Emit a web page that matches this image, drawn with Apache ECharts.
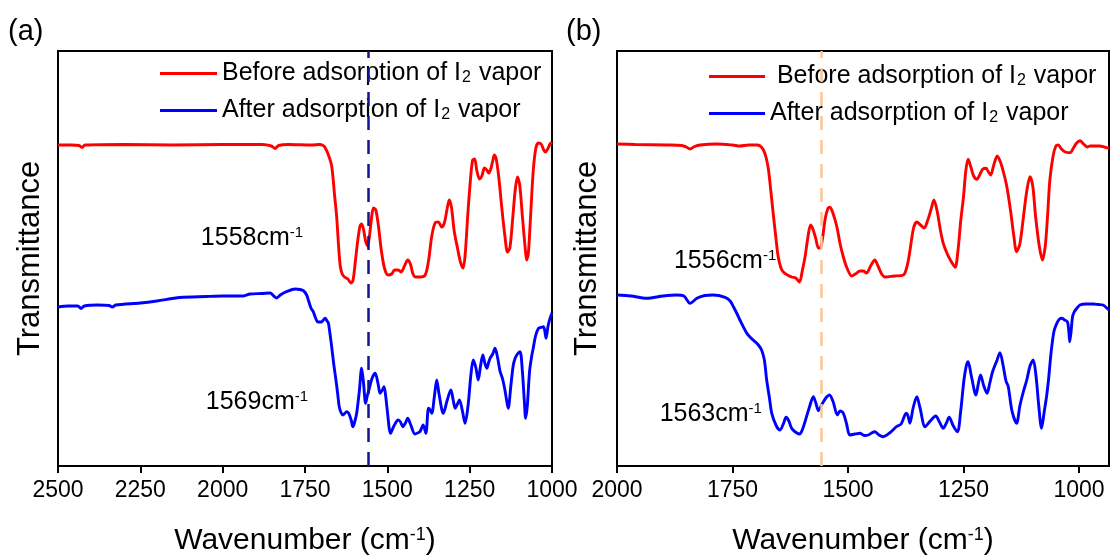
<!DOCTYPE html>
<html><head><meta charset="utf-8">
<script src="https://cdn.jsdelivr.net/npm/echarts@6/dist/echarts.min.js"></script>
<style>html,body{margin:0;padding:0;background:#fff}#c{width:1111px;height:558px}</style>
</head><body><div id="c"></div><script>
// ---- data: [wavenumber (cm-1), transmittance (a.u.)] ----
const seriesNames = ['Before adsorption of I2 vapor', 'After adsorption of I2 vapor'];
const xTicksA = [2500, 2250, 2000, 1750, 1500, 1250, 1000];
const xTicksB = [2000, 1750, 1500, 1250, 1000];
const peakA = 1558, peakB = 1557;
const annA = [['1558', 1911, 228], ['1569', 1896, 64]];
const annB = [['1556', 1766, 205], ['1563', 1797, 52]];

const beforeA = [[2500,321],[2460,321],[2436,320.5],[2427,318.5],[2418,321],[2300,321.5],[2150,321],[2000,321.5],[1880,321.5],[1852,320],[1841,317.5],[1830,320.5],[1800,321.5],[1730,321],[1705,321.5],[1695,320.5],[1690,319],[1680,312],[1669,300],[1660,270],[1654,250],[1648,220],[1643,200],[1637,192],[1630,189],[1620,187],[1610,183],[1604,186],[1597,205],[1590,225],[1583,240],[1578,242],[1572,236],[1566,225],[1560,220],[1555,228],[1548,248],[1542,258],[1535,256],[1527,240],[1518,215],[1508,197],[1497,191],[1487,192],[1478,196],[1467,196],[1458,194],[1448,200],[1438,206],[1430,202],[1422,192],[1414,189],[1400,189],[1385,191],[1375,205],[1365,230],[1355,243],[1345,244],[1335,239],[1327,243],[1318,258],[1312,266],[1305,258],[1297,235],[1287,218],[1278,204],[1270,198],[1264,210],[1256,250],[1248,285],[1241,306],[1235,307],[1228,295],[1220,287],[1213,290],[1205,298],[1198,296],[1192,293],[1186,297],[1180,305],[1175,311],[1170,308],[1162,290],[1153,260],[1143,230],[1135,214],[1128,218],[1120,245],[1112,275],[1105,289],[1098,281],[1090,250],[1082,220],[1077,206],[1072,212],[1065,250],[1057,295],[1049,318],[1041,323],[1033,322],[1025,316],[1020,314],[1013,317],[1006,322],[1000,324]];

const afterA = [[2500,159],[2470,160],[2440,160],[2430,157.5],[2420,160],[2380,161],[2345,160.5],[2335,159],[2325,161],[2250,163],[2200,165],[2130,168.5],[2050,169.5],[2000,170],[1937,170],[1917,172],[1880,172.5],[1856,173],[1845,170],[1836,168],[1825,171],[1806,174.3],[1780,177],[1765,176.5],[1755,175.3],[1745,171],[1740,166],[1732,158],[1725,154.3],[1718,148],[1712,144.3],[1705,144],[1699,144.3],[1693,146.5],[1689,147.7],[1683,145],[1679,143],[1674,132],[1669,119.3],[1662,100],[1656,86],[1650,70],[1646,59.3],[1640,53],[1635,51],[1628,53],[1623,54.3],[1618,53],[1615,51],[1609,45],[1605,39.3],[1600,43],[1593,53],[1585,75],[1578,97.7],[1572,82],[1566,62.7],[1561,70],[1556,76],[1546,88],[1537,92.7],[1528,82],[1522,72.7],[1515,76],[1510,79.3],[1505,70],[1500,55],[1490,32.7],[1480,40],[1467,46],[1460,44],[1453,39.3],[1445,43],[1438,47.7],[1430,42],[1416,32],[1408,33],[1401,34.3],[1391,41],[1383,32.7],[1375,57.7],[1370,56],[1365,52.7],[1357,70],[1350,86],[1343,72],[1330,52.7],[1318,66],[1307,76],[1300,66],[1294,57.7],[1287,62],[1281,66],[1272,55],[1264,42.7],[1255,60],[1246,92],[1239,106],[1231,98],[1224,86],[1217,100],[1210,111],[1204,103],[1198,97.7],[1192,104],[1188,107.7],[1180,112],[1173,117.7],[1165,108],[1158,95],[1150,87],[1143,76],[1138,66],[1133,57.7],[1125,80],[1118,100],[1112,107.7],[1105,112],[1097,114.3],[1090,95],[1084,65],[1080,47.7],[1075,60],[1068,95],[1060,113],[1057,117.7],[1050,130],[1041,137.7],[1034,138.5],[1026,139.3],[1022,135],[1018,127.7],[1012,140],[1006,147.7],[1000,153]];

const beforeB = [[2000,322],[1960,321.5],[1892,321],[1860,320.5],[1850,319],[1842,317],[1832,319.5],[1820,321],[1784,322],[1750,321],[1734,320],[1715,321],[1698,321],[1690,320],[1683,316],[1677,308],[1672,296],[1667,275],[1662,253],[1656,228],[1651,209],[1645,198],[1640,194],[1631,191],[1622,189],[1613,188],[1605,184],[1599,195],[1593,209],[1587,228],[1581,241],[1576,237],[1570,228],[1564,218],[1560,218],[1556,225],[1549,248],[1543,258],[1539,258.7],[1532,252],[1524,239],[1517,222],[1510,209],[1503,199],[1492,190],[1484,192],[1474,195],[1467,195],[1460,193],[1451,200],[1442,206],[1435,200],[1427,192],[1420,189],[1400,190],[1380,191],[1372,200],[1366,215],[1358,238],[1351,244],[1343,241],[1335,238],[1328,245],[1320,257],[1314,266],[1307,255],[1300,236],[1294,223],[1285,212],[1276,204],[1268,198.7],[1262,215],[1256,245],[1250,269],[1245,295],[1240,306.7],[1234,299],[1228,290],[1221,286.7],[1214,292],[1208,297],[1201,297.7],[1196,294],[1191,291],[1185,300],[1177,310],[1170,304],[1163,293],[1156,279],[1148,255],[1141,230],[1135,214.3],[1128,222],[1120,250],[1113,275],[1106,289.3],[1100,280],[1094,250],[1086,220],[1079,206],[1073,220],[1068,250],[1063,286],[1056,310],[1050,320],[1045,321],[1038,317],[1030,314],[1019,313.3],[1012,318],[1005,323],[998,325.3],[990,322],[982,319],[976,320],[966,320],[955,320],[945,319],[937,318],[935,318]];

const afterB = [[2000,171],[1970,170],[1936,167.7],[1900,170],[1871,171],[1855,170],[1842,162.7],[1827,167.7],[1810,170.5],[1792,171],[1766,168.7],[1755,165],[1748,159.3],[1741,153],[1734,146],[1719,132.7],[1710,128],[1701,124.3],[1694,121],[1687,116],[1681,106],[1676,86],[1670,68],[1665,52.7],[1655,40],[1647,36],[1640,42],[1634,48.7],[1628,45],[1622,37.7],[1614,34],[1605,32],[1599,36],[1593,44.3],[1584,58],[1575,69.3],[1569,62],[1564,55.3],[1556,62],[1548,68],[1540,71],[1532,64],[1523,51],[1517,55],[1510,52.7],[1503,42],[1496,31],[1485,32],[1474,32.7],[1465,30.5],[1456,31],[1449,33],[1442,34.3],[1433,31],[1424,29.3],[1410,33],[1395,39.3],[1385,42],[1374,52.7],[1370,50],[1366,42.7],[1359,58],[1351,69.3],[1344,58],[1333,39.3],[1322,45],[1310,50],[1302,44],[1294,37.7],[1287,43],[1281,48.7],[1272,40],[1263,34.3],[1256,55],[1249,86],[1244,100],[1240,104.3],[1233,90],[1223,71],[1218,82],[1213,91],[1206,80],[1199,72.7],[1193,83],[1187,94.3],[1178,105],[1171,113.3],[1164,100],[1158,85],[1153,79.3],[1145,55],[1135,42.7],[1128,60],[1120,75],[1113,86],[1106,100],[1099,106],[1093,90],[1087,60],[1081,37.7],[1075,55],[1070,70],[1066,86],[1060,115],[1054,135],[1048,142.7],[1042,147],[1037,147.7],[1031,146],[1025,144.3],[1022,135],[1020,124.3],[1017,135],[1014,149],[1010,154.3],[1004,158],[998,161],[985,162],[969,162],[958,161.5],[948,161],[940,158],[935,156]];

// ---- chart ----
const FF = '"Liberation Sans", Arial, sans-serif';
const chart = echarts.init(document.getElementById('c'), null, {renderer: 'canvas'});

const nameRich = {
  a: {fontSize: 30, fontFamily: FF, color: '#000'},
  b: {fontSize: 18, fontFamily: FF, color: '#000', verticalAlign: 'top'}
};
const legRich = {
  t: {fontSize: 25, lineHeight: 25, fontFamily: FF, color: '#000', verticalAlign: 'top'},
  s: {fontSize: 16, lineHeight: 16, fontFamily: FF, color: '#000', verticalAlign: 'bottom', padding: [20, 1, 0, 1]}
};
const annRich = {
  n: {fontSize: 25, fontFamily: FF, color: '#000'},
  s: {fontSize: 15, fontFamily: FF, color: '#000', verticalAlign: 'top'}
};
function legFmt(firstPrefix) {
  return function (name) {
    const parts = name.split('I2');
    const pre = name.indexOf('Before') === 0 ? firstPrefix : '';
    return '{t|' + pre + parts[0] + 'I}{s|2}{t|' + parts[1] + '}';
  };
}
function xAxisCfg(gi, min, max, ticks) {
  return {
    type: 'value', gridIndex: gi, min: min, max: max, inverse: true,
    axisLine: {show: true, onZero: false, lineStyle: {color: '#000', width: 2}},
    axisTick: {show: true, length: 7, inside: false, customValues: ticks, lineStyle: {color: '#000', width: 2}},
    axisLabel: {show: true, customValues: ticks, fontSize: 23, fontFamily: FF, color: '#000', margin: 13,
      formatter: v => String(v)},
    splitLine: {show: false},
    name: '{a|Wavenumber (cm}{b|-1}{a|)}', nameLocation: 'middle', nameGap: 60,
    nameTextStyle: {rich: nameRich}
  };
}
function yAxisCfg(gi, gap) {
  return {
    type: 'value', gridIndex: gi, min: 0, max: 415,
    axisLine: {show: false}, axisTick: {show: false}, axisLabel: {show: false}, splitLine: {show: false},
    name: 'Transmittance', nameLocation: 'middle', nameGap: gap,
    nameTextStyle: {fontSize: 31, fontFamily: FF, color: '#000'}
  };
}
function annPoints(list) {
  return {
    symbol: 'circle', symbolSize: 1, itemStyle: {color: 'rgba(0,0,0,0)'}, silent: true,
    label: {show: true, position: 'inside', rich: annRich,
      formatter: p => '{n|' + p.name + 'cm}{s|-1}'},
    data: list.map(a => ({name: a[0], coord: [a[1], a[2]]}))
  };
}
function vline(x, color) {
  return {
    silent: true, symbol: ['none', 'none'], label: {show: false},
    lineStyle: {type: [14, 10], color: color, width: 2.5},
    data: [{xAxis: x}]
  };
}
function line(name, data, color, xi, extra) {
  return Object.assign({
    type: 'line', name: name, data: data, xAxisIndex: xi, yAxisIndex: xi,
    showSymbol: false, smooth: 0.3, animation: false,
    lineStyle: {color: color, width: 2.9}, itemStyle: {color: color}
  }, extra || {});
}

chart.setOption({
  animation: false,
  backgroundColor: '#fff',
  grid: [
    {left: 58, right: 559, top: 51, bottom: 92, outerBoundsMode: 'none', containLabel: false,
     show: true, borderColor: '#000', borderWidth: 2, backgroundColor: 'transparent'},
    {left: 617, right: 2, top: 51, bottom: 92, outerBoundsMode: 'none', containLabel: false,
     show: true, borderColor: '#000', borderWidth: 2, backgroundColor: 'transparent'}
  ],
  xAxis: [xAxisCfg(0, 1000, 2500, xTicksA), xAxisCfg(1, 935, 2000, xTicksB)],
  yAxis: [yAxisCfg(0, 12), yAxisCfg(1, 14)],
  legend: [
    {orient: 'vertical', left: 155, top: 45, itemWidth: 57, itemHeight: 3, itemGap: 1, icon: 'rect',
     data: seriesNames, selectedMode: false, formatter: legFmt(''), textStyle: {rich: legRich}},
    {orient: 'vertical', left: 704, top: 48, itemWidth: 56, itemHeight: 3, itemGap: 1, icon: 'rect',
     data: seriesNames, selectedMode: false, formatter: legFmt(' '), textStyle: {rich: legRich}}
  ],
  graphic: [
    {type: 'text', left: 8, top: 17, style: {text: '(a)', fontSize: 29, fontFamily: FF, fill: '#000'}},
    {type: 'text', left: 566, top: 17, style: {text: '(b)', fontSize: 29, fontFamily: FF, fill: '#000'}}
  ],
  series: [
    line(seriesNames[0], beforeA, '#ff0000', 0, {markLine: vline(peakA, '#14148f'), markPoint: annPoints([annA[0]])}),
    line(seriesNames[1], afterA, '#0000ff', 0, {markPoint: annPoints([annA[1]])}),
    line(seriesNames[0], beforeB, '#ff0000', 1, {markLine: vline(peakB, '#fcc593'), markPoint: annPoints([annB[0]])}),
    line(seriesNames[1], afterB, '#0000ff', 1, {markPoint: annPoints([annB[1]])})
  ]
});
</script></body></html>
